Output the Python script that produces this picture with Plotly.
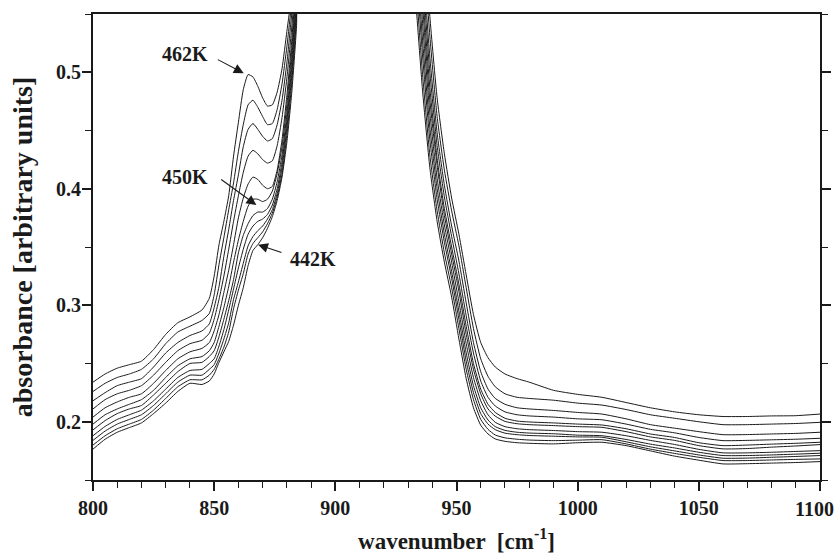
import plotly.graph_objects as go

X_LEFT = [800, 805, 810, 815, 820, 825, 830, 835, 840, 845, 848, 850, 852, 854, 856, 858, 860,
          862, 864, 866, 868, 870, 872, 874, 876, 878, 880, 882, 884, 886]
X_RIGHT = [930, 933, 936, 939, 942, 945, 948, 951, 954, 957, 960, 963, 966, 970, 975, 980,
           990, 1000, 1010, 1020, 1030, 1040, 1050, 1060, 1070, 1080, 1090, 1100]

X_TICKS = [800, 850, 900, 950, 1000, 1050, 1100]
X_TICK_TEXT = ["800", "850", "900", "950", "1000", "1050", ""]
EDGE_LABEL = "1100"

TEMPS = ["462K", "460K", "458K", "456K", "454K", "452K", "450K", "448K", "446K", "444K", "442K"]

A462 = [.234, .241, .246, .249, .252, .262, .275, .285, .290, .296,
        .306, .325, .352, .372, .394, .428, .457, .485, .498, .496, .488, .478, .471, .472, .483, .503, .535, .567, .61, .66,
        .87, .76, .64, .548, .478, .430, .392, .361, .326, .292, .268, .255, .247, .241, .237, .234,
        .227, .2235, .221, .2165, .212, .2085, .206, .2045, .2045, .205, .2052, .2066]
A460 = [.226, .233, .238, .241, .245, .254, .267, .277, .282, .287,
        .293, .309, .335, .358, .382, .405, .432, .455, .472, .476, .470, .462, .455, .456, .468, .490, .522, .560, .605, .66,
        .85, .74, .62, .531, .462, .416, .381, .351, .315, .280, .254, .239, .230, .224, .221, .220,
        .2185, .216, .2143, .2105, .206, .203, .200, .1975, .1975, .198, .1985, .1995]
A458 = [.218, .225, .231, .234, .237, .247, .259, .268, .274, .278,
        .284, .298, .316, .342, .365, .390, .412, .436, .451, .456, .451, .445, .441, .443, .455, .476, .508, .550, .600, .66,
        .83, .715, .60, .513, .448, .403, .368, .338, .302, .268, .243, .228, .220, .215, .212, .211,
        .2097, .208, .2066, .2025, .1975, .1945, .1915, .1889, .189, .1895, .190, .191]
A456 = [.211, .219, .224, .227, .231, .240, .251, .261, .267, .270,
        .276, .288, .305, .325, .348, .372, .394, .414, .428, .433, .430, .425, .422, .424, .437, .461, .495, .538, .590, .66,
        .81, .695, .585, .500, .437, .393, .359, .327, .291, .259, .235, .221, .2135, .2085, .206, .205,
        .204, .2025, .2017, .198, .1935, .1905, .1865, .1838, .184, .1845, .185, .1858]
A454 = [.204, .212, .217, .221, .224, .233, .244, .254, .260, .263,
        .268, .278, .292, .311, .330, .352, .375, .392, .404, .410, .408, .403, .400, .402, .416, .442, .480, .527, .582, .66,
        .79, .675, .570, .487, .426, .383, .350, .318, .282, .250, .228, .215, .208, .203, .2006, .1998,
        .199, .198, .1972, .194, .1895, .1865, .182, .1795, .180, .1808, .1815, .1824]
A452 = [.198, .206, .211, .215, .219, .227, .238, .248, .254, .256,
        .261, .268, .282, .298, .316, .337, .356, .372, .385, .391, .391, .389, .391, .398, .413, .436, .472, .519, .575, .66,
        .775, .66, .557, .476, .420, .377, .344, .312, .275, .245, .224, .211, .2048, .2003, .1983, .1975,
        .1967, .1958, .1952, .1915, .187, .184, .1795, .1767, .177, .1782, .1792, .1804]
A450 = [.193, .201, .207, .211, .214, .223, .233, .243, .250, .251,
        .256, .261, .273, .288, .304, .322, .345, .360, .370, .377, .380, .380, .383, .391, .406, .429, .464, .511, .568, .66,
        .755, .64, .542, .465, .409, .369, .337, .303, .267, .238, .218, .206, .1995, .1958, .194, .1932,
        .1925, .1915, .191, .188, .184, .1805, .1763, .1733, .1733, .1738, .1745, .1752]
A448 = [.188, .196, .202, .206, .210, .218, .228, .238, .244, .245,
        .250, .254, .265, .279, .296, .314, .332, .348, .361, .368, .372, .374, .378, .386, .400, .423, .458, .504, .562, .66,
        .74, .62, .527, .453, .400, .361, .329, .295, .259, .231, .212, .2015, .1958, .1926, .191, .1903,
        .1897, .1885, .188, .1848, .1808, .1775, .1738, .171, .171, .1715, .1722, .173]
A446 = [.184, .192, .198, .202, .206, .214, .224, .234, .240, .240,
        .245, .249, .259, .271, .285, .305, .320, .336, .351, .359, .364, .368, .374, .382, .396, .418, .452, .497, .555, .66,
        .72, .604, .514, .442, .391, .354, .323, .288, .252, .225, .207, .198, .1932, .1902, .1889, .1882,
        .1876, .187, .1867, .1828, .1785, .175, .1715, .1687, .1688, .1695, .1702, .171]
A444 = [.180, .188, .194, .198, .202, .210, .220, .230, .236, .236,
        .240, .245, .254, .264, .277, .297, .313, .327, .344, .353, .358, .363, .370, .379, .393, .413, .446, .490, .548, .66,
        .70, .585, .498, .429, .381, .345, .315, .280, .245, .219, .202, .1935, .1886, .1862, .185, .1843,
        .1838, .1842, .1846, .181, .1765, .1728, .1695, .1667, .1667, .1672, .1677, .1681]
A442 = [.1765, .185, .191, .195, .199, .207, .216, .226, .233, .232,
        .235, .241, .251, .260, .269, .283, .300, .315, .334, .347, .352, .358, .366, .376, .390, .410, .440, .482, .540, .66,
        .685, .568, .484, .418, .372, .337, .307, .271, .237, .212, .197, .1895, .1852, .1832, .182, .1815,
        .181, .182, .1824, .1795, .175, .1705, .167, .1638, .164, .1645, .165, .1658]

SERIES = [A462, A460, A458, A456, A454, A452, A450, A448, A446, A444, A442]

LABELS = ["462K", "450K", "442K"]
LABEL_POS = [(837.9, 0.5157), (837.9, 0.4103), (890.8, 0.340)]
ARROW_TAIL = [(850.9, 0.5115), (852.3, 0.4089), (878.4, 0.3448)]
ARROW_TIP = [(862.2, 0.4992), (867.4, 0.386), (868.1, 0.352)]

X = X_LEFT + X_RIGHT
INK = "#1a1a1a"
FONT = "Liberation Serif"
TICK_FONT = dict(family=FONT, size=20, color=INK, weight="bold")

fig = go.Figure()
for name, vals in zip(TEMPS, SERIES):
    fig.add_trace(go.Scatter(x=X, y=vals, mode="lines", name=name,
                             line=dict(color=INK, width=1, shape="spline", smoothing=0.5),
                             showlegend=False, hoverinfo="skip"))

for lab, (tx, ty), (ax, ay), (hx, hy) in zip(LABELS, LABEL_POS, ARROW_TAIL, ARROW_TIP):
    fig.add_annotation(x=tx, y=ty, text=lab, showarrow=False,
                       font=dict(family=FONT, size=20, color=INK, weight="bold"))
    fig.add_annotation(x=hx, y=hy, ax=ax, ay=ay, axref="x", ayref="y", text="",
                       showarrow=True, arrowhead=2, arrowsize=1.8, arrowwidth=1.1,
                       arrowcolor=INK, standoff=0, startstandoff=0)

# last x tick label sits flush with the right edge of the picture
fig.add_annotation(x=1, xref="paper", y=0, yref="paper", text=EDGE_LABEL, showarrow=False,
                   xanchor="right", yanchor="top", xshift=16, yshift=-16,
                   font=TICK_FONT)

axis_common = dict(showline=True, linecolor=INK, linewidth=2, ticks="outside",
                   tickcolor=INK, tickwidth=1.6, ticklen=9, showgrid=False, automargin=False,
                   zeroline=False, tickfont=TICK_FONT)

fig.update_xaxes(range=[800, 1100], tickmode="array", tickvals=X_TICKS, ticktext=X_TICK_TEXT,
                 mirror=True,
                 minor=dict(dtick=10, tick0=800, ticks="outside", ticklen=6, tickcolor=INK, tickwidth=1.4),
                 title=dict(text="wavenumber  [cm<sup>-1</sup>]", standoff=17,
                            font=dict(family=FONT, size=23, color=INK, weight="bold")),
                 ticklabelstandoff=0, **axis_common)
fig.update_yaxes(range=[0.15, 0.55], tick0=0.2, dtick=0.1, mirror="ticks", tickformat=".1f",
                 minor=dict(dtick=0.05, tick0=0.15, ticks="outside", ticklen=6, tickcolor=INK, tickwidth=1.4),
                 title=dict(text="absorbance [arbitrary units]", standoff=15,
                            font=dict(family=FONT, size=28, color=INK, weight="bold")),
                 ticklabelstandoff=-3, **axis_common)

fig.update_layout(width=836, height=554, margin=dict(l=93, r=16, t=14, b=74),
                  paper_bgcolor="white", plot_bgcolor="white")

fig.write_html("out.html")
